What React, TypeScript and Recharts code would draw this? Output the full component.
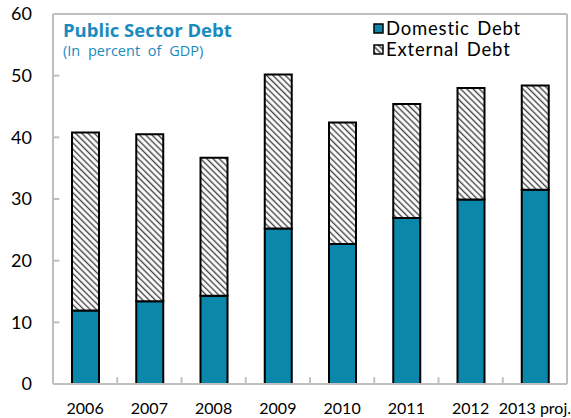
import React from 'react';
import { BarChart, Bar, XAxis, YAxis, ReferenceLine, Legend } from 'recharts';

const years = ['2006', '2007', '2008', '2009', '2010', '2011', '2012', '2013 proj.'];
const domestic = [11.9, 13.4, 14.3, 25.2, 22.7, 26.9, 29.9, 31.5];
const external = [28.9, 27.1, 22.4, 25.0, 19.7, 18.5, 18.1, 16.9];
const yTicks = [0, 10, 20, 30, 40, 50, 60];
const boundaryTicks = [1, 2, 3, 4, 5, 6, 7];

const TEAL = '#0B87AA';
const AXIS = '#BFBFBF';
const TITLE = '#1A8BBE';
const FONT = 'Lato, "Open Sans", sans-serif';
const Y_TICK_LEN = 0.1; // in category units
const X_TICK_LEN = 1.1; // in value units

const data = years.map((y, i) => ({ year: y, idx: i + 0.5, domestic: domestic[i], external: external[i] }));

const renderLegend = () => (
  <div style={{ fontFamily: FONT, fontSize: 18.5, color: '#000', letterSpacing: '0.8px', wordSpacing: '2px' }}>
    <div style={{ display: 'flex', alignItems: 'center', height: 21 }}>
      <svg width={11} height={11} style={{ marginRight: 2 }}>
        <rect x={1} y={1} width={9} height={9} fill={TEAL} stroke="#000" strokeWidth={1.5} />
      </svg>
      <span style={{ lineHeight: '21px' }}>Domestic Debt</span>
    </div>
    <div style={{ display: 'flex', alignItems: 'center', height: 21 }}>
      <svg width={11} height={11} style={{ marginRight: 2 }}>
        <defs>
          <pattern id="hatchL" width={4} height={4} patternUnits="userSpaceOnUse" patternTransform="rotate(45)">
            <rect width={4} height={4} fill="#fff" />
            <line x1={0} y1={1} x2={4} y2={1} stroke="#333" strokeWidth={1.4} />
          </pattern>
        </defs>
        <rect x={1} y={1} width={9} height={9} fill="url(#hatchL)" stroke="#000" strokeWidth={1.5} />
      </svg>
      <span style={{ lineHeight: '21px' }}>External Debt</span>
    </div>
  </div>
);

export default function App() {
  return (
    <div style={{ position: 'absolute', left: 0, top: 0, width: 571, height: 418, background: '#fff' }}>
      <BarChart
        width={571}
        height={418}
        data={data}
        margin={{ top: 14, right: 4, left: 8, bottom: 0 }}
        barSize={27}
      >
        <defs>
          <pattern id="hatch" width={4.4} height={4.4} patternUnits="userSpaceOnUse" patternTransform="rotate(45)">
            <rect width={4.4} height={4.4} fill="#fff" />
            <line x1={0} y1={1.2} x2={4.4} y2={1.2} stroke="#444" strokeWidth={1.4} />
          </pattern>
        </defs>
        <XAxis
          dataKey="year"
          height={34}
          tickLine={false}
          tickSize={0}
          tickMargin={19}
          axisLine={{ stroke: AXIS, strokeWidth: 2 }}
          tick={{ fill: '#000', fontSize: 16, fontFamily: FONT }}
          interval={0}
        />
        <XAxis
          xAxisId="g"
          type="number"
          dataKey="idx"
          domain={[0, 8]}
          allowDataOverflow
          hide
          height={0}
        />
        <YAxis
          width={45}
          domain={[0, 60]}
          ticks={yTicks}
          tickLine={false}
          tickSize={6}
          tickMargin={15}
          axisLine={{ stroke: AXIS, strokeWidth: 2 }}
          tick={{ fill: '#000', fontSize: 18, fontFamily: FONT }}
        />
        <ReferenceLine y={60} stroke={AXIS} strokeWidth={2} />
        <ReferenceLine x={8} xAxisId="g" stroke={AXIS} strokeWidth={2} />
        {yTicks.map((t) => (
          <ReferenceLine
            key={'yt' + t}
            xAxisId="g"
            segment={[{ x: 0, y: t }, { x: Y_TICK_LEN, y: t }]}
            stroke={AXIS}
            strokeWidth={2}
          />
        ))}
        {boundaryTicks.map((t) => (
          <ReferenceLine
            key={'xt' + t}
            xAxisId="g"
            segment={[{ x: t, y: 0 }, { x: t, y: X_TICK_LEN }]}
            stroke={AXIS}
            strokeWidth={2}
          />
        ))}
        <Legend
          layout="vertical"
          align="center"
          verticalAlign="middle"
          content={renderLegend}
          wrapperStyle={{ position: 'absolute', left: 373, top: 18, width: 195 }}
        />
        <Bar dataKey="domestic" stackId="a" fill={TEAL} stroke="#000" strokeWidth={2} isAnimationActive={false} name="Domestic Debt" />
        <Bar dataKey="external" stackId="a" fill="url(#hatch)" stroke="#000" strokeWidth={2} isAnimationActive={false} name="External Debt" />
      </BarChart>
      <div style={{ position: 'absolute', left: 63, top: 18, fontFamily: '"Open Sans", sans-serif', color: TITLE, pointerEvents: 'none' }}>
        <div style={{ fontSize: 18.5, fontWeight: 'bold', lineHeight: '24px' }}>Public Sector Debt</div>
        <div style={{ fontSize: 14.5, lineHeight: '18px', wordSpacing: '4px' }}>(In percent of GDP)</div>
      </div>
    </div>
  );
}
